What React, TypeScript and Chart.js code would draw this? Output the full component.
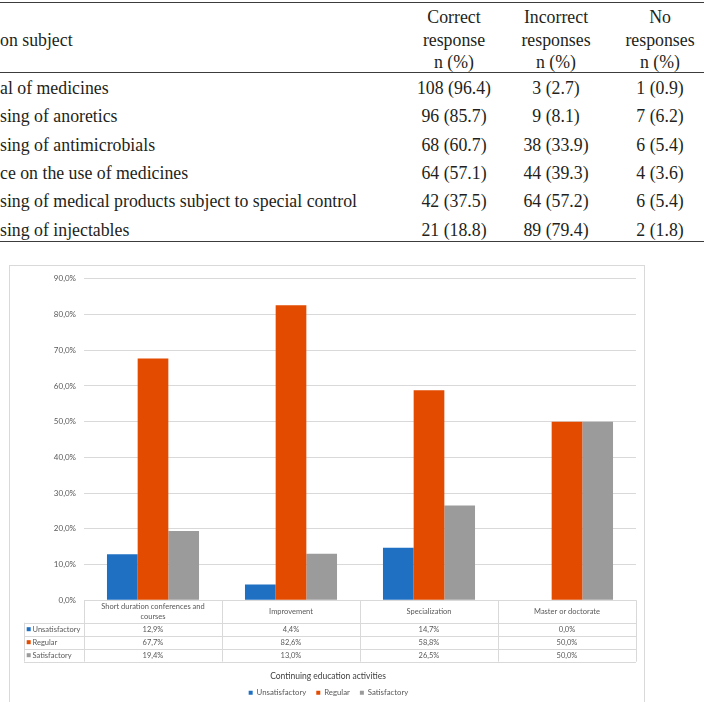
import React, { useEffect, useRef } from "react";
import { Chart, registerables } from "chart.js";

Chart.register(...registerables);

// ---- Knowledge table (upper part of the page) ----
const subjects = [
  "al of medicines",
  "sing of anoretics",
  "sing of antimicrobials",
  "ce on the use of medicines",
  "sing of medical products subject to special control",
  "sing of injectables",
];
const correctResponses = ["108 (96.4)", "96 (85.7)", "68 (60.7)", "64 (57.1)", "42 (37.5)", "21 (18.8)"];
const incorrectResponses = ["3 (2.7)", "9 (8.1)", "38 (33.9)", "44 (39.3)", "64 (57.2)", "89 (79.4)"];
const noResponses = ["1 (0.9)", "7 (6.2)", "6 (5.4)", "4 (3.6)", "6 (5.4)", "2 (1.8)"];
const subjectHeader = "on subject";
const columnHeaders = [
  ["Correct", "response", "n (%)"],
  ["Incorrect", "responses", "n (%)"],
  ["No", "responses", "n (%)"],
];

// ---- Continuing education chart ----
const categories = [
  "Short duration conferences and courses",
  "Improvement",
  "Specialization",
  "Master or doctorate",
];
const seriesNames = ["Unsatisfactory", "Regular", "Satisfactory"];
const unsatisfactory = [12.9, 4.4, 14.7, 0.0];
const regular = [67.7, 82.6, 58.8, 50.0];
const satisfactory = [19.4, 13.0, 26.5, 50.0];
const seriesColors = ["#1F70C2", "#E24B00", "#9B9B9B"];
const axisTitle = "Continuing education activities";
const yMin = 0;
const yMax = 90;
const yStep = 10;

const pct = (v: number) => v.toFixed(1).replace(".", ",") + "%";

const SERIF = '"Liberation Serif", "Times New Roman", serif';
const SANS = "Lato, 'Open Sans', sans-serif";
const INK = "#231F20";
const GRID = "#D9D9D9";
const LABEL = "#595959";

function wrapText(ctx: CanvasRenderingContext2D, text: string, maxW: number): string[] {
  const words = text.split(" ");
  const lines: string[] = [];
  let cur = "";
  for (const w of words) {
    const test = cur ? cur + " " + w : w;
    if (cur && ctx.measureText(test).width > maxW) {
      lines.push(cur);
      cur = w;
    } else {
      cur = test;
    }
  }
  if (cur) lines.push(cur);
  return lines;
}

// Draws the data table under the plot plus the horizontal axis title
const dataTablePlugin = {
  id: "dataTable",
  afterDraw(chart: any) {
    const { ctx, chartArea, scales } = chart;
    const xs = scales.x;
    const left = chartArea.left;
    const right = chartArea.right;
    const top = chartArea.bottom;
    const catW = (right - left) / categories.length;
    const headH = 22.5;
    const rowH = 13;
    const labelLeft = 14;
    const rows = [unsatisfactory, regular, satisfactory];
    const bottom = top + headH + rowH * rows.length;
    const px = (v: number) => Math.round(v) + 0.5;

    ctx.save();
    ctx.strokeStyle = GRID;
    ctx.lineWidth = 1;
    ctx.beginPath();
    ctx.moveTo(left, px(top));
    ctx.lineTo(right, px(top));
    for (let r = 0; r <= rows.length; r++) {
      const y = px(top + headH + r * rowH);
      ctx.moveTo(labelLeft, y);
      ctx.lineTo(right, y);
    }
    for (let i = 0; i <= categories.length; i++) {
      const x = px(left + i * catW);
      ctx.moveTo(x, top);
      ctx.lineTo(x, bottom);
    }
    ctx.moveTo(px(labelLeft), top + headH);
    ctx.lineTo(px(labelLeft), bottom);
    ctx.stroke();

    ctx.fillStyle = LABEL;
    ctx.font = `7.5px ${SANS}`;
    ctx.textAlign = "center";
    ctx.textBaseline = "middle";
    categories.forEach((c, i) => {
      const cx = xs.getPixelForValue(i);
      const lines = wrapText(ctx, c, catW - 20);
      const lh = 10.7;
      const cy = top + headH / 2;
      lines.forEach((ln, k) => {
        ctx.fillText(ln, cx, cy + (k - (lines.length - 1) / 2) * lh);
      });
      rows.forEach((vals, r) => {
        ctx.fillText(pct(vals[i]), cx, top + headH + r * rowH + rowH / 2 + 0.5);
      });
    });

    ctx.textAlign = "left";
    seriesNames.forEach((name, r) => {
      const cy = top + headH + r * rowH + rowH / 2;
      ctx.fillStyle = seriesColors[r];
      ctx.fillRect(labelLeft + 2.7, cy - 2, 4, 4);
      ctx.fillStyle = LABEL;
      ctx.fillText(name, labelLeft + 8.5, cy + 0.5);
    });

    ctx.fillStyle = "#404040";
    ctx.font = `8.5px ${SANS}`;
    ctx.textAlign = "center";
    ctx.fillText(axisTitle, chart.width / 2 + 1, bottom + 14.7);
    ctx.restore();
  },
};

export default function App() {
  const canvasRef = useRef<HTMLCanvasElement>(null);

  useEffect(() => {
    const canvas = canvasRef.current;
    if (!canvas) return;
    const values = [unsatisfactory, regular, satisfactory];
    const chart = new Chart(canvas, {
      type: "bar",
      data: {
        labels: categories,
        datasets: seriesNames.map((name, i) => ({
          label: name,
          data: values[i],
          backgroundColor: seriesColors[i],
          borderWidth: 0,
          categoryPercentage: 0.667,
          barPercentage: 1,
        })),
      },
      options: {
        responsive: false,
        animation: false,
        devicePixelRatio: 1,
        layout: { padding: { top: 8.5, right: 8, bottom: 9.25, left: 11 } },
        plugins: {
          tooltip: { enabled: false },
          legend: {
            position: "bottom",
            labels: {
              boxWidth: 4,
              boxHeight: 4,
              padding: 10,
              color: LABEL,
              font: { family: SANS, size: 7.8 },
            },
          },
        },
        scales: {
          x: {
            ticks: { display: false },
            grid: { display: false, drawTicks: false },
            border: { display: false },
            afterFit: (s: any) => {
              s.height = 78.75;
            },
          },
          y: {
            min: yMin,
            max: yMax,
            ticks: {
              stepSize: yStep,
              padding: 8,
              color: LABEL,
              font: { family: SANS, size: 8 },
              callback: (v: any) => pct(Number(v)),
            },
            grid: { color: GRID, drawTicks: false },
            border: { display: false },
            afterFit: (s: any) => {
              s.width = 63;
            },
          },
        },
      },
      plugins: [dataTablePlugin],
    } as any);
    return () => chart.destroy();
  }, []);

  const rowCenter = (i: number) => 88 + i * 28.3;
  const headCenters = [17, 39.5, 62];
  const colCenters = [454, 556, 660];
  const fontSize = 17.8;

  const textStyle = (cy: number): React.CSSProperties => ({
    position: "absolute",
    top: cy - 11,
    height: 22,
    lineHeight: "22px",
    whiteSpace: "nowrap",
    fontFamily: SERIF,
    fontSize,
    color: INK,
  });
  const centered = (cx: number, cy: number): React.CSSProperties => ({
    ...textStyle(cy),
    left: cx - 70,
    width: 140,
    textAlign: "center",
  });
  const rule = (top: number, h: number): React.CSSProperties => ({
    position: "absolute",
    left: 0,
    width: 704,
    top,
    height: h,
    background: "#3C3C3C",
  });

  const valueCols = [correctResponses, incorrectResponses, noResponses];

  return (
    <div
      style={{
        position: "fixed",
        left: 0,
        top: 0,
        width: 704,
        height: 702,
        background: "#fff",
        overflow: "hidden",
      }}
    >
      <div style={rule(1.7, 1.2)} />
      <div style={rule(72, 1.2)} />
      <div style={rule(241, 1.4)} />
      <div style={{ ...textStyle(headCenters[1]), left: 0 }}>{subjectHeader}</div>
      {columnHeaders.map((lines, c) =>
        lines.map((t, k) => (
          <div key={`h${c}${k}`} style={centered(colCenters[c], headCenters[k])}>
            {t}
          </div>
        ))
      )}
      {subjects.map((s, i) => (
        <div key={`s${i}`} style={{ ...textStyle(rowCenter(i)), left: 0 }}>
          {s}
        </div>
      ))}
      {valueCols.map((col, c) =>
        col.map((v, i) => (
          <div key={`v${c}${i}`} style={centered(colCenters[c], rowCenter(i))}>
            {v}
          </div>
        ))
      )}
      <div
        style={{
          position: "absolute",
          left: 9,
          top: 265,
          width: 634,
          height: 450,
          border: `1px solid ${GRID}`,
        }}
      >
        <canvas
          ref={canvasRef}
          width={634}
          height={450}
          style={{ display: "block", width: 634, height: 450 }}
        />
      </div>
    </div>
  );
}
